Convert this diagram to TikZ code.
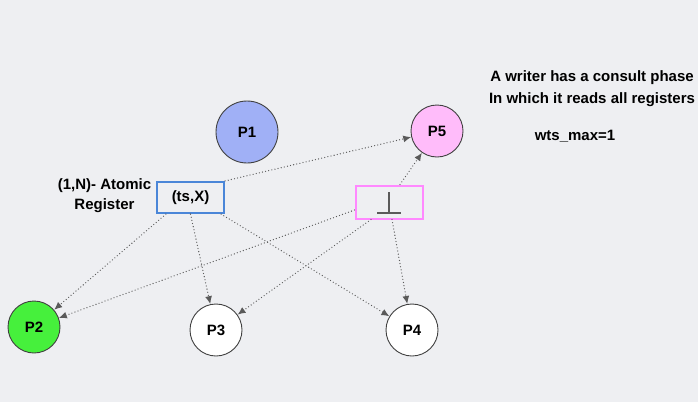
\documentclass[tikz,border=0pt]{standalone}
\usepackage{fontspec}
\setmainfont{Liberation Sans}
\usetikzlibrary{arrows.meta}
\definecolor{bg}{RGB}{238,239,242}
\definecolor{pone}{RGB}{160,176,246}
\definecolor{pfive}{RGB}{255,188,250}
\definecolor{ptwo}{RGB}{70,240,60}
\definecolor{regblue}{RGB}{74,134,216}
\definecolor{regpink}{RGB}{255,136,255}
\definecolor{edge}{RGB}{90,90,90}
\begin{document}
\begin{tikzpicture}[x=1pt,y=-1pt,
  proc/.style={circle,draw=black!75,line width=0.9pt,minimum size=52pt,inner sep=0pt,font=\fontsize{15}{17}\selectfont\bfseries},
  reg/.style={draw,line width=2.2pt,minimum width=67pt,minimum height=31pt,inner sep=0pt,font=\fontsize{15}{17}\selectfont\bfseries},
  lbl/.style={font=\fontsize{15}{20}\selectfont\bfseries,inner sep=0pt},
  conn/.style={draw=edge,line width=1.3pt,line cap=round,dash pattern=on 0pt off 3.2pt,-{Latex[length=8pt,width=7pt]}}]
\fill[bg] (0,0) rectangle (698,402);
\useasboundingbox (0,0) rectangle (698,402);
\node[proc,fill=pone,minimum size=62pt] (p1) at (247,132) {P1};
\node[proc,fill=pfive] (p5) at (437,131) {P5};
\node[proc,fill=ptwo] (p2) at (34,327) {P2};
\node[proc,fill=white] (p3) at (216,330) {P3};
\node[proc,fill=white] (p4) at (412,330) {P4};
\node[reg,draw=regblue] (r1) at (190.5,197.5) {(ts,X)};
\node[reg,draw=regpink,line width=2pt,minimum width=67pt,minimum height=33pt] (r2) at (389,202) {};
\draw[edge,line width=1.4pt] (389,192) -- (389,213);
\draw[edge,line width=1.4pt] (377,213) -- (401,213);
\node[lbl,align=center] (lab) at (104.5,196) {(1,N)- Atomic\\Register};
\node[lbl,align=center] (t1) at (592,78) {A writer has a consult phase};
\node[lbl,align=center] (t2) at (592,100) {In which it reads all registers};
\node[lbl] (t3) at (575,136) {wts\_max=1};
\draw[conn] (r1.north east) -- (p5);
\draw[conn] ([xshift=10pt]r1.south west) -- (p2);
\draw[conn] (r1.south) -- (p3);
\draw[conn] ([xshift=-4pt]r1.south east) -- (p4);
\draw[conn] ([yshift=-8pt]r2.west) -- (p2);
\draw[conn] ([xshift=-18pt]r2.south) -- (p3);
\draw[conn] ([xshift=3pt]r2.south) -- (p4);
\draw[conn] ([xshift=11pt]r2.north) -- (p5);
\end{tikzpicture}
\end{document}
